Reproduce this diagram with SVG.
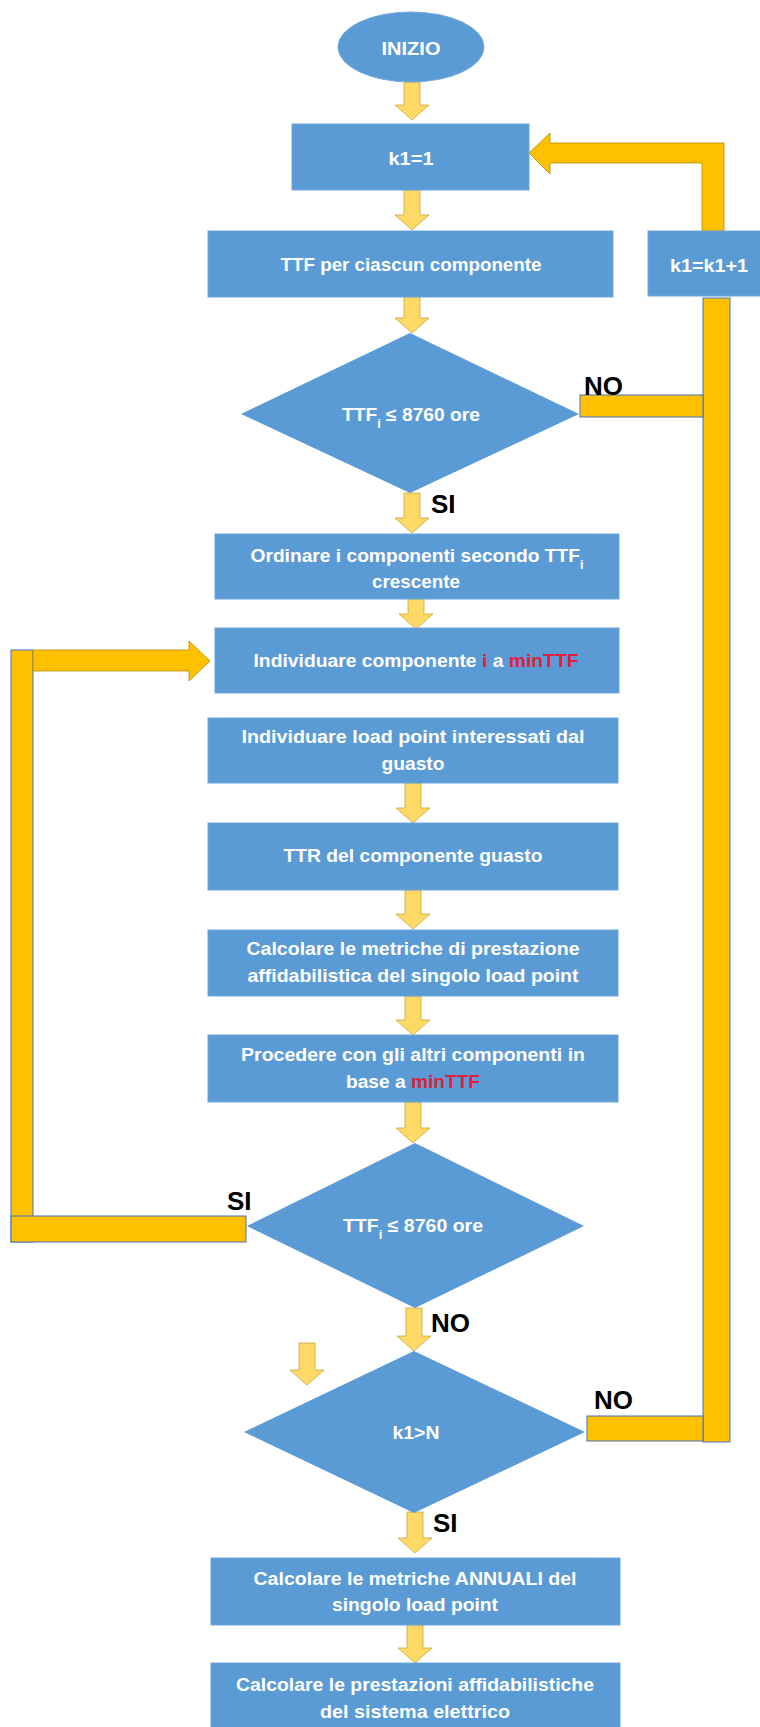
<svg xmlns="http://www.w3.org/2000/svg" width="760" height="1727" viewBox="0 0 760 1727">
<defs>
<style>
.box{fill:#5B9BD5;stroke:#6FA6DA;stroke-width:1}
.t{font-family:"Liberation Sans",Arial,sans-serif;font-weight:bold;font-size:18px;fill:#FFFFFF;text-anchor:middle}
.red{fill:#E0203A}
.lbl{font-family:"Liberation Sans",Arial,sans-serif;font-weight:bold;font-size:26px;fill:#000000}
.fa{fill:#FFD966;stroke:#C9A63A;stroke-width:0.8}
.bar{fill:#FFC000;stroke:#4472C4;stroke-width:1}
.bar2{fill:#FFC000;stroke:#B38A00;stroke-width:0.8}
</style>
</defs>
<rect width="760" height="1727" fill="#FFFFFF"/>

<g id="connectors">
<polygon class="fa" points="404,82 420,82 420,105 429,105 412,120 395,105 404,105"/>
<polygon class="fa" points="404,190 420,190 420,215 429,215 412,230 395,215 404,215"/>
<polygon class="fa" points="404,297 420,297 420,318 429,318 412,333 395,318 404,318"/>
<polygon class="fa" points="404,493 420,493 420,518 429,518 412,533 395,518 404,518"/>
<polygon class="fa" points="408,599 424,599 424,614 433,614 416,629 399,614 408,614"/>
<polygon class="fa" points="405,783 421,783 421,808 430,808 413,823 396,808 405,808"/>
<polygon class="fa" points="405,890 421,890 421,914 430,914 413,929 396,914 405,914"/>
<polygon class="fa" points="405,996 421,996 421,1020 430,1020 413,1035 396,1020 405,1020"/>
<polygon class="fa" points="405,1102 421,1102 421,1128 430,1128 413,1143 396,1128 405,1128"/>
<polygon class="fa" points="406,1308 422,1308 422,1336 431,1336 414,1351 397,1336 406,1336"/>
<polygon class="fa" points="299,1343 315,1343 315,1370 324,1370 307,1385 290,1370 299,1370"/>
<polygon class="fa" points="407,1512 423,1512 423,1538 432,1538 415,1553 398,1538 407,1538"/>
<polygon class="fa" points="407,1625 423,1625 423,1648 432,1648 415,1663 398,1648 407,1648"/>

<polygon class="bar2" points="724,231 724,143 550,143 550,133 529,153 550,174 550,163 702,163 702,231"/>
<rect class="bar" x="703" y="298" width="27" height="1144"/>
<rect class="bar" x="580" y="395" width="123" height="22"/>
<rect class="bar" x="587" y="1416" width="116" height="25"/>
<rect class="bar" x="11" y="650" width="22" height="592"/>
<rect class="bar" x="11" y="1216" width="235" height="26"/>
<polygon class="bar2" points="33,650 189,650 189,641 210,661 189,681 189,671 33,671"/>

<text class="lbl" x="584" y="395">NO</text>
<text class="lbl" x="431" y="513">SI</text>
<text class="lbl" x="227" y="1210">SI</text>
<text class="lbl" x="431" y="1332">NO</text>
<text class="lbl" x="594" y="1409">NO</text>
<text class="lbl" x="433" y="1532">SI</text>
</g>

<g id="inizio">
<ellipse cx="411" cy="47" rx="73" ry="35" fill="#5B9BD5" stroke="#6FA6DA"/>
<text class="t" x="411" y="55" font-size="19" textLength="59" lengthAdjust="spacingAndGlyphs">INIZIO</text>
</g>

<g id="k1init">
<rect class="box" x="292" y="124" width="237" height="66"/>
<text class="t" x="411" y="165" textLength="45" lengthAdjust="spacingAndGlyphs">k1=1</text>
</g>

<g id="ttf">
<rect class="box" x="208" y="231" width="405" height="66"/>
<text class="t" x="411" y="271" textLength="261" lengthAdjust="spacingAndGlyphs">TTF per ciascun componente</text>
</g>

<g id="k1inc">
<rect class="box" x="648" y="231" width="125" height="65"/>
<text class="t" x="709" y="272" textLength="78" lengthAdjust="spacingAndGlyphs">k1=k1+1</text>
</g>

<g id="dec1">
<polygon points="410,333 579,414 410,493 241,414" fill="#5B9BD5"/>
<text class="t" x="411" y="421" textLength="138" lengthAdjust="spacingAndGlyphs">TTF<tspan font-size="12" baseline-shift="sub">i</tspan> ≤ 8760 ore</text>
</g>

<g id="ordinare">
<rect class="box" x="215" y="534" width="404" height="65"/>
<text class="t" x="417" y="562" textLength="333" lengthAdjust="spacingAndGlyphs">Ordinare i componenti secondo TTF<tspan font-size="12" baseline-shift="sub">i</tspan></text>
<text class="t" x="416" y="588" textLength="88" lengthAdjust="spacingAndGlyphs">crescente</text>
</g>

<g id="individuare">
<rect class="box" x="215" y="628" width="404" height="65"/>
<text class="t" x="416" y="667" textLength="325" lengthAdjust="spacingAndGlyphs">Individuare componente <tspan class="red">i</tspan> a <tspan class="red">minTTF</tspan></text>
</g>

<g id="loadpoint">
<rect class="box" x="208" y="718" width="410" height="65"/>
<text class="t" x="413" y="743" textLength="343" lengthAdjust="spacingAndGlyphs">Individuare load point interessati dal</text>
<text class="t" x="413" y="770" textLength="63" lengthAdjust="spacingAndGlyphs">guasto</text>
</g>

<g id="ttr">
<rect class="box" x="208" y="823" width="410" height="67"/>
<text class="t" x="413" y="862" textLength="259" lengthAdjust="spacingAndGlyphs">TTR del componente guasto</text>
</g>

<g id="metriche">
<rect class="box" x="208" y="930" width="410" height="66"/>
<text class="t" x="413" y="955" textLength="333" lengthAdjust="spacingAndGlyphs">Calcolare le metriche di prestazione</text>
<text class="t" x="413" y="982" textLength="331" lengthAdjust="spacingAndGlyphs">affidabilistica del singolo load point</text>
</g>

<g id="procedere">
<rect class="box" x="208" y="1035" width="410" height="67"/>
<text class="t" x="413" y="1061" textLength="344" lengthAdjust="spacingAndGlyphs">Procedere con gli altri componenti in</text>
<text class="t" x="413" y="1088" textLength="134" lengthAdjust="spacingAndGlyphs">base a <tspan class="red">minTTF</tspan></text>
</g>

<g id="dec2">
<polygon points="415,1143 584,1226 415,1308 247,1226" fill="#5B9BD5"/>
<text class="t" x="413" y="1232" textLength="140" lengthAdjust="spacingAndGlyphs">TTF<tspan font-size="12" baseline-shift="sub">i</tspan> ≤ 8760 ore</text>
</g>

<g id="dec3">
<polygon points="414,1351 585,1432 414,1513 244,1432" fill="#5B9BD5"/>
<text class="t" x="416" y="1439" textLength="47" lengthAdjust="spacingAndGlyphs">k1&gt;N</text>
</g>

<g id="annuali">
<rect class="box" x="211" y="1558" width="409" height="67"/>
<text class="t" x="415" y="1585" textLength="323" lengthAdjust="spacingAndGlyphs">Calcolare le metriche ANNUALI del</text>
<text class="t" x="415" y="1611" textLength="166" lengthAdjust="spacingAndGlyphs">singolo load point</text>
</g>

<g id="sistema">
<rect class="box" x="211" y="1663" width="409" height="70"/>
<text class="t" x="415" y="1691" textLength="358" lengthAdjust="spacingAndGlyphs">Calcolare le prestazioni affidabilistiche</text>
<text class="t" x="415" y="1718" textLength="190" lengthAdjust="spacingAndGlyphs">del sistema elettrico</text>
</g>
</svg>
